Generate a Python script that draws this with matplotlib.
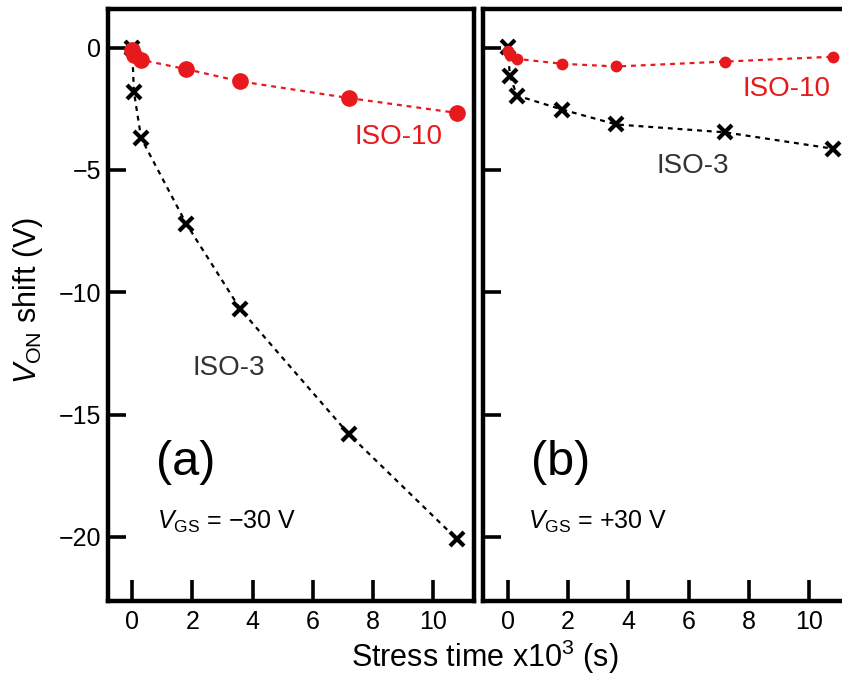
import matplotlib
matplotlib.use("Agg")
import matplotlib.pyplot as plt

plt.rcParams['font.family'] = ['Liberation Sans', 'DejaVu Sans']
plt.rcParams['mathtext.fontset'] = 'custom'
plt.rcParams['mathtext.rm'] = 'Liberation Sans'
plt.rcParams['mathtext.it'] = 'Liberation Sans:italic'

RED = '#e8191c'
MINUS = '\u2212'

# stress time in units of 10^3 s
t = [0, 0.06, 0.3, 1.8, 3.6, 7.2, 10.8]

# (a) negative gate bias, VGS = -30 V
iso3_neg = [0, -1.8, -3.7, -7.2, -10.7, -15.8, -20.1]
iso10_neg = [-0.1, -0.3, -0.5, -0.88, -1.38, -2.06, -2.67]

# (b) positive gate bias, VGS = +30 V
iso3_pos = [0.04, -1.14, -1.96, -2.53, -3.14, -3.46, -4.13]
iso10_pos = [-0.13, -0.3, -0.46, -0.66, -0.77, -0.57, -0.37]

yticks = [0, -5, -10, -15, -20]
ytick_labels = ['0', MINUS + '5', MINUS + '10', MINUS + '15', MINUS + '20']
xticks = [0, 2, 4, 6, 8, 10]

fig = plt.figure(figsize=(8.42, 6.84), dpi=100)
ax1 = fig.add_axes([0.1283, 0.122, 0.4347, 0.8645])
ax2 = fig.add_axes([0.5736, 0.122, 0.4347, 0.8645])

dots = (0, (2.2, 2.2))


def style(ax, xlim):
    ax.set_xlim(*xlim)
    ax.set_ylim(-22.6, 1.57)
    ax.set_xticks(xticks)
    ax.set_yticks(yticks)
    for sp in ax.spines.values():
        sp.set_linewidth(3.2)
    ax.tick_params(axis='x', direction='in', length=15, width=2.6,
                   labelsize=18, pad=7)
    ax.tick_params(axis='y', direction='in', length=13, width=2.6,
                   labelsize=18, pad=5)


# panel (a)
ax1.plot(t, iso3_neg, color='black', ls=dots, lw=1.6, marker='x',
         ms=10.5, mew=3, zorder=3)
ax1.plot(t, iso10_neg, color=RED, ls=dots, lw=1.6, marker='o',
         ms=11, mec=RED, zorder=4)
style(ax1, (-0.8, 11.36))
ax1.set_yticklabels(ytick_labels)
ax1.text(8.86, -3.66, 'ISO-10', color=RED, fontsize=20, ha='center', va='center')
ax1.text(3.2, -13.1, 'ISO-3', color='#333333', fontsize=20, ha='center', va='center')
ax1.text(1.77, -16.95, '(a)', fontsize=35, ha='center', va='center')
ax1.text(0.84, -19.4, r'$V_{\mathrm{GS}}$ = ' + MINUS + '30 V',
         fontsize=18, ha='left', va='center')

# panel (b)
ax2.plot(t, iso3_pos, color='black', ls=dots, lw=1.6, marker='x',
         ms=10.5, mew=3, zorder=3)
ax2.plot(t, iso10_pos, color=RED, ls=dots, lw=1.6, marker='o',
         ms=7.5, mec=RED, zorder=4)
style(ax2, (-0.83, 11.33))
ax2.set_yticklabels([])
ax2.text(9.26, -1.7, 'ISO-10', color=RED, fontsize=20, ha='center', va='center')
ax2.text(6.13, -4.84, 'ISO-3', color='#333333', fontsize=20, ha='center', va='center')
ax2.text(1.75, -16.95, '(b)', fontsize=35, ha='center', va='center')
ax2.text(0.67, -19.4, r'$V_{\mathrm{GS}}$ = +30 V', fontsize=18, ha='left', va='center')

fig.text(0.033, 0.56, r'$V_{\mathrm{ON}}$ shift (V)', rotation=90,
         fontsize=22, ha='center', va='center')
fig.text(0.576, 0.04, r'Stress time x10$^{3}$ (s)', fontsize=22,
         ha='center', va='center')

fig.savefig('out.png', dpi=100)
